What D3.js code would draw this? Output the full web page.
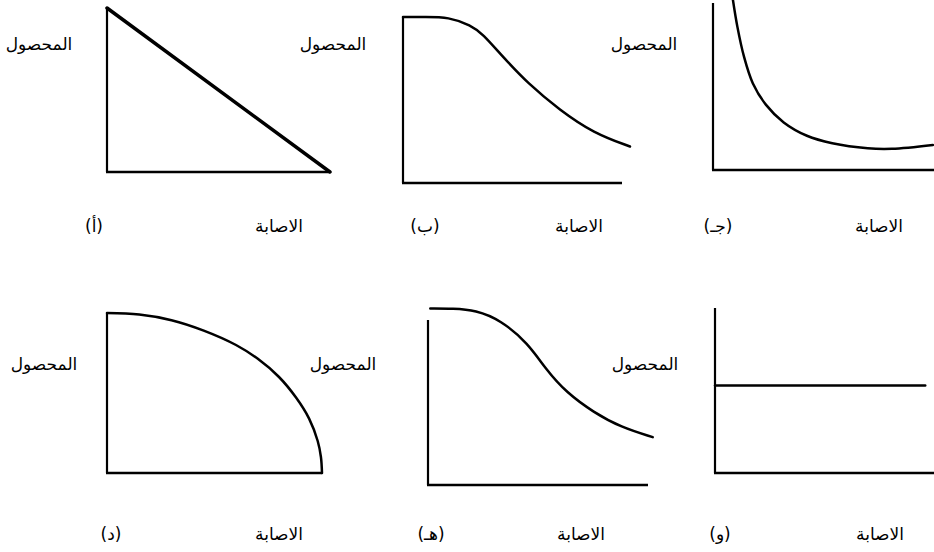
<!DOCTYPE html>
<html>
<head>
<meta charset="utf-8">
<script src="https://cdn.jsdelivr.net/npm/d3@7"></script>
<style>
  body { margin: 0; background: #fff; }
  text { font-family: "DejaVu Sans", sans-serif; fill: #000; }
</style>
</head>
<body>
<script>
// Labels
var yieldLabel = "المحصول";
var injuryLabel = "الاصابة";
var panelLetters = ["(أ)", "(ب)", "(جـ)", "(د)", "(هـ)", "(و)"];

// Curves: injury (x, 0-10) against yield (y, 0-10)
var injuryA = [0, 10];
var yieldA = [10, 0];

var injuryB = [0, 1, 2, 3, 3.5, 4.4, 5.5, 6.9, 8.4, 10];
var yieldB = [10, 10, 10, 9.5, 9.0, 7.6, 6.0, 4.4, 3.0, 2.2];

var injuryC = [0.9, 1.1, 1.4, 1.8, 2.4, 3.2, 4.25, 5.4, 7.0, 8.1, 9.95];
var yieldC = [10.2, 8.6, 6.8, 5.2, 3.9, 2.85, 2.05, 1.6, 1.3, 1.27, 1.5];

var injuryD = [0, 1.5, 3, 4.5, 6, 7, 8, 8.8, 9.4, 9.8, 9.95, 10];
var yieldD = [10, 9.9, 9.55, 8.9, 8.0, 7.15, 6.0, 4.7, 3.4, 2.0, 1.0, 0];

var injuryE = [0.1, 1.1, 2.1, 3.2, 4.4, 5.2, 6.1, 7.3, 8.5, 9.9];
var yieldE = [10.7, 10.7, 10.6, 10.0, 8.6, 7.0, 5.6, 4.4, 3.5, 2.9];

var injuryF = [0, 9.6];
var yieldF = [5.3, 5.3];

var seriesX = [injuryA, injuryB, injuryC, injuryD, injuryE, injuryF];
var seriesY = [yieldA, yieldB, yieldC, yieldD, yieldE, yieldF];

// Panel frames in pixels (layout only)
var frames = [
  {left: 107, right: 330, top: 8,   bottom: 172, axisRight: 330, axisTop: 8,   lw: 3.5, curve: d3.curveLinear,      yLab: [39, 50],  letter: [94, 232],  inj: [279, 232]},
  {left: 403, right: 630, top: 17,  bottom: 183, axisRight: 622, axisTop: 17,  lw: 2.5, curve: d3.curveBasis,       yLab: [333, 50], letter: [425, 232], inj: [579, 232]},
  {left: 713, right: 934, top: 3,   bottom: 170, axisRight: 934, axisTop: 3,   lw: 2.5, curve: d3.curveCatmullRom,  yLab: [644, 50], letter: [718, 232], inj: [879, 232]},
  {left: 107, right: 322, top: 313, bottom: 473, axisRight: 322, axisTop: 313, lw: 2.5, curve: d3.curveCatmullRom,  yLab: [44, 370], letter: [111, 540], inj: [279, 540]},
  {left: 428, right: 655, top: 320, bottom: 485, axisRight: 648, axisTop: 320, lw: 2.5, curve: d3.curveBasis,       yLab: [343, 370], letter: [431, 540], inj: [581, 540]},
  {left: 715, right: 934, top: 308, bottom: 473, axisRight: 934, axisTop: 308, lw: 2.5, curve: d3.curveLinear,      yLab: [645, 370], letter: [720, 540], inj: [880, 540]}
];

var svg = d3.select("body")
  .append("svg")
  .attr("width", 934)
  .attr("height", 552);

frames.forEach(function(f, i) {
  var x = d3.scaleLinear().domain([0, 10]).range([f.left, f.right]);
  var y = d3.scaleLinear().domain([0, 10]).range([f.bottom, f.top]);
  var g = svg.append("g");

  // axes
  g.append("line")
    .attr("x1", x(0)).attr("x2", x(0))
    .attr("y1", f.axisTop).attr("y2", y(0))
    .attr("stroke", "#000").attr("stroke-width", 2.2);
  g.append("line")
    .attr("x1", x(0) - 1).attr("x2", f.axisRight)
    .attr("y1", y(0)).attr("y2", y(0))
    .attr("stroke", "#000").attr("stroke-width", 2.5);

  // curve
  var pts = seriesX[i].map(function(v, k) { return [v, seriesY[i][k]]; });
  var line = d3.line()
    .x(d => x(d[0]))
    .y(d => y(d[1]))
    .curve(f.curve);
  g.append("path")
    .datum(pts)
    .attr("d", line)
    .attr("fill", "none")
    .attr("stroke", "#000")
    .attr("stroke-width", f.lw)
    .attr("stroke-linecap", "round");

  // labels
  g.append("text")
    .attr("x", f.yLab[0]).attr("y", f.yLab[1])
    .attr("text-anchor", "middle")
    .style("font-size", "17px")
    .text(yieldLabel);
  g.append("text")
    .attr("x", f.letter[0]).attr("y", f.letter[1])
    .attr("text-anchor", "middle")
    .style("font-size", "17px")
    .text(panelLetters[i]);
  g.append("text")
    .attr("x", f.inj[0]).attr("y", f.inj[1])
    .attr("text-anchor", "middle")
    .style("font-size", "17px")
    .text(injuryLabel);
});
</script>
</body>
</html>
